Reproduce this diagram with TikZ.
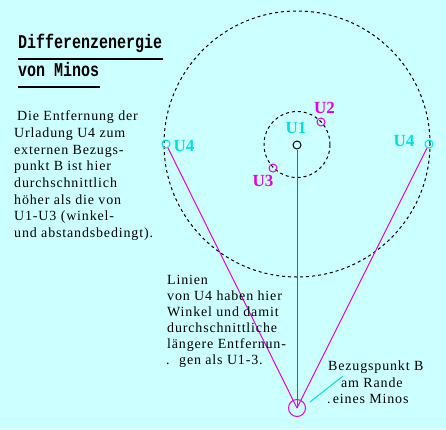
\documentclass[tikz,border=0pt]{standalone}
\usepackage{fontspec}
\setmainfont{Liberation Serif}
\setmonofont{Liberation Mono}
\newfontfamily\bodyfont[LetterSpace=6]{Liberation Serif}
\definecolor{bg}{RGB}{204,255,255}
\definecolor{mag}{RGB}{230,0,230}
\definecolor{cy}{RGB}{0,224,224}
\begin{document}
\begin{tikzpicture}[x=1pt,y=-1pt,
  txt/.style={anchor=base west,inner sep=0pt,font=\bodyfont\fontsize{14}{16}\selectfont},
  lab/.style={anchor=base,inner sep=0pt,font=\bfseries\fontsize{17}{17}\selectfont},
  ttl/.style={anchor=base west,inner sep=0pt,font=\ttfamily\bfseries\fontsize{15}{15}\selectfont},
  dot/.style={circle,draw,minimum size=8pt,inner sep=0pt,line width=1pt},
  orbit/.style={draw=black,line width=1pt,dash pattern=on 3pt off 3pt},
  ray/.style={draw=mag,line width=1pt}]
\fill[bg] (0,0) rectangle (446,429);
\useasboundingbox (0,0) rectangle (446,429);
% title
\node[ttl] (t1) at (18,48) {\scalebox{1}[1.3]{Differenzenergie}};
\node[ttl] (t2) at (18,76) {\scalebox{1}[1.3]{von Minos}};
\draw[line width=2pt] (18,59) -- (163,59);
\draw[line width=2pt] (18,87) -- (100,87);
% orbits
\draw[orbit] (297,144) circle[radius=133pt];
\draw[orbit] (297,144.5) circle[radius=33pt];
% charges
\node[dot,draw=black] (U1) at (297,145) {};
\node[dot,draw=mag] (U2) at (321,122) {};
\node[dot,draw=mag] (U3) at (273,168) {};
\node[dot,draw=cy] (U4L) at (166,144) {};
\node[dot,draw=cy] (U4R) at (429,144) {};
\node[circle,draw=mag,line width=1pt,minimum size=17pt,inner sep=0pt] (B) at (297,408) {};
% lines
\draw[ray] (B.center) -- (U4L);
\draw[ray] (B.center) -- (U4R);
\draw[ray] (B.center) -- (U1);
% labels
\node[lab,text=cy] (l1) at (296,133) {U1};
\node[lab,text=mag] (l2) at (324.5,113.3) {U2};
\node[lab,text=mag] (l3) at (263,186) {U3};
\node[lab,text=cy] (l4a) at (184,151) {U4};
\node[lab,text=cy] (l4b) at (404,146) {U4};
% left text
\node[txt] (a1) at (17,120.7) {Die Entfernung der};
\node[txt] (a2) at (14,137.3) {Urladung U4 zum};
\node[txt] (a3) at (14,154) {externen Bezugs-};
\node[txt] (a4) at (14,170.7) {punkt B ist hier};
\node[txt] (a5) at (14,187.3) {durchschnittlich};
\node[txt] (a6) at (14,204) {höher als die von};
\node[txt] (a7) at (14,220.7) {U1-U3 (winkel-};
\node[txt] (a8) at (14,237.3) {und abstandsbedingt).};
% middle text
\node[txt] (m1) at (167,284.3) {Linien};
\node[txt] (m2) at (167,300.3) {von U4 haben hier};
\node[txt] (m3) at (167,316.3) {Winkel und damit};
\node[txt] (m4) at (167,332.3) {durchschnittliche};
\node[txt] (m5) at (167,348.3) {längere Entfernun-};
\node[txt] (m6) at (166,364.3) {.};
\node[txt] (m7) at (179,364.3) {gen als U1-3.};
% B text
\node[txt] (b1) at (328,370) {Bezugspunkt B};
\node[txt] (b2) at (341,387.7) {am Rande};
\node[txt] (b3) at (327,403.3) {.};
\node[txt] (b4) at (332.7,403.3) {eines Minos};
\coordinate (c1) at (310,402);
\coordinate (c2) at (343,376);
\draw[cy,line width=1pt] (c1) -- (c2);
\end{tikzpicture}
\end{document}
